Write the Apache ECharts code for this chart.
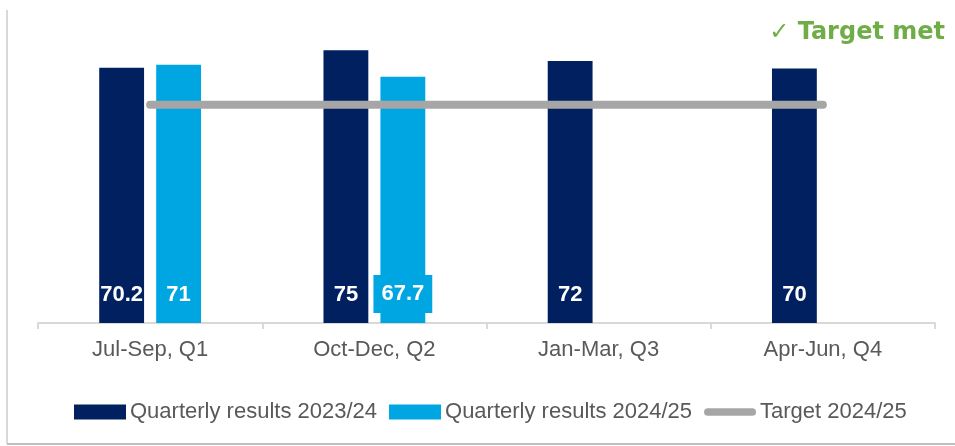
<!DOCTYPE html>
<html>
<head>
<meta charset="utf-8">
<script src="https://cdn.jsdelivr.net/npm/echarts@6/dist/echarts.min.js"></script>
<style>
html,body{margin:0;padding:0;background:#fff;}
#chart{width:955px;height:446px;}
</style>
</head>
<body>
<div id="chart"></div>
<script>
// quarters on the x axis
var categories = ['Jul-Sep, Q1', 'Oct-Dec, Q2', 'Jan-Mar, Q3', 'Apr-Jun, Q4'];
// quarterly results
var results2324 = [70.2, 75, 72, 70];
var results2425 = [71, 67.7, null, null];
// target line
var target2425 = [60, 60, 60, 60];
var seriesNames = ['Quarterly results 2023/24', 'Quarterly results 2024/25', 'Target 2024/25'];

var fontMain = "'Liberation Sans', Arial, sans-serif";
var myChart = echarts.init(document.getElementById('chart'));

var labelBase = {
	show: true,
	position: 'insideBottom',
	distance: 17,
	color: '#fff',
	fontWeight: 'bold',
	fontSize: 22,
	fontFamily: fontMain
};

var data2425 = results2425.map(function(v, i) {
	if (i == 1) {
		// this label sits in a box wider than the bar
		return {
			value: v,
			label: { backgroundColor: '#00a6e2', padding: [8, 8, 8, 8], distance: 10 }
		};
	}
	return v;
});

// capsule shaped legend icon for the target line
var capsule = 'path://M4,0H50A4,4 0 0 1 50,8H4A4,4 0 0 1 4,0Z';

var option = {
	animation: false,
	grid: { left: 38, right: 20, top: 32, bottom: 123 },
	legend: {
		left: 69,
		top: 396,
		itemWidth: 52,
		itemHeight: 15,
		itemGap: 12,
		textStyle: { fontSize: 22, color: '#595959', fontFamily: fontMain, padding: [0, 0, 0, -1] },
		data: [
			{ name: seriesNames[0], icon: 'rect' },
			{ name: seriesNames[1], icon: 'rect' },
			{ name: seriesNames[2], icon: capsule, itemStyle: { color: '#a6a6a6' }, lineStyle: { width: 0, opacity: 0 } }
		]
	},
	xAxis: {
		type: 'category',
		data: categories,
		axisLine: { lineStyle: { color: '#d9d9d9', width: 2 } },
		axisTick: { show: true, length: 6, lineStyle: { color: '#d9d9d9', width: 2 } },
		axisLabel: { color: '#595959', fontSize: 22, fontFamily: fontMain, margin: 16 }
	},
	yAxis: {
		type: 'value',
		min: 0,
		max: 80,
		show: false,
		splitLine: { show: false }
	},
	graphic: [
		{
			type: 'text',
			right: 10,
			top: 21,
			style: {
				text: '\u2713 Target met',
				fill: '#70ad47',
				font: "bold 24px 'DejaVu Sans', sans-serif"
			}
		},
		{
			type: 'line',
			shape: { x1: 7, y1: 10, x2: 7, y2: 444 },
			style: { stroke: '#d9d9d9', lineWidth: 2 }
		},
		{
			type: 'line',
			shape: { x1: 7, y1: 444, x2: 955, y2: 444 },
			style: { stroke: '#bfbfbf', lineWidth: 2 }
		}
	],
	series: [
		{
			name: seriesNames[0],
			type: 'bar',
			data: results2324,
			barWidth: '20%',
			barGap: '27%',
			itemStyle: { color: '#002060' },
			label: labelBase
		},
		{
			name: seriesNames[1],
			type: 'bar',
			data: data2425,
			barWidth: '20%',
			itemStyle: { color: '#00a6e2' },
			label: labelBase
		},
		{
			name: seriesNames[2],
			type: 'line',
			data: target2425,
			symbol: 'none',
			z: 5,
			lineStyle: { color: '#a6a6a6', width: 8, cap: 'round' },
			itemStyle: { color: '#a6a6a6' }
		}
	]
};

myChart.setOption(option);
window.addEventListener("resize", function () {
	myChart.resize();
});
</script>
</body>
</html>
